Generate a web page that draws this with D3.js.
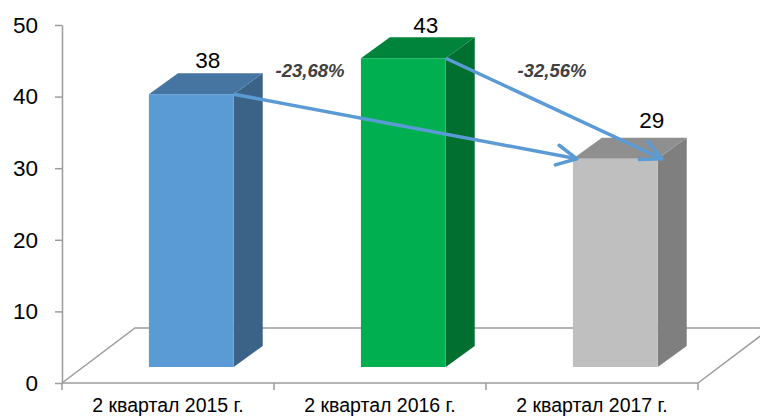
<!DOCTYPE html>
<html>
<head>
<meta charset="utf-8">
<script src="https://cdn.jsdelivr.net/npm/d3@7"></script>
<style>
  body { margin: 0; background: #fff; }
  svg { display: block; font-family: "Liberation Sans", Arial, sans-serif; }
</style>
</head>
<body>
<div id="chart"></div>
<script>
// Данные
const categories = ["2 квартал 2015 г.", "2 квартал 2016 г.", "2 квартал 2017 г."];
const values = [38, 43, 29];
const yTicks = [0, 10, 20, 30, 40, 50];
// стрелки: из какого столбца в какой
const arrowFrom = [0, 1];
const arrowTo = [2, 2];

// Цвета граней
const frontColors = ["#5b9bd5", "#00b050", "#bfbfbf"];
const topColors = ["#4675a1", "#00843b", "#8f8f8f"];
const sideColors = ["#3b6387", "#006f30", "#7f7f7f"];

const width = 760, height = 418;
const depthX = 29, depthY = -21;      // глубина столбцов
const floorX = 73, floorY = -55;      // глубина "пола"
const labelNudge = [[2, 0], [8, 1], [22, -5]];
const pctX = [310, 552];

const svg = d3.select("#chart").append("svg")
  .attr("width", width)
  .attr("height", height);

const x = d3.scaleBand().domain(categories).range([62, 698]).padding(0);
const yAxis = d3.scaleLinear().domain([0, 50]).range([383, 25]);
const yBar = d3.scaleLinear().domain([0, 50]).range([367, 8]);
const bw = x.bandwidth();

const barX = c => x(c) + bw * 0.41;
const barW = bw * 0.4;

// Пол
const x0 = x.range()[0], x1 = x.range()[1], y0 = yAxis(0);
svg.append("path")
  .attr("d", `M${x0},${y0} L${x0 + floorX},${y0 + floorY} L${x1 + floorX},${y0 + floorY} M${x1},${y0} L${x1 + floorX},${y0 + floorY}`)
  .attr("fill", "none")
  .attr("stroke", "#9c9c9c")
  .attr("stroke-width", 1.5);

// Передний край и деления оси X
svg.append("line")
  .attr("x1", x0).attr("x2", x1)
  .attr("y1", y0).attr("y2", y0)
  .attr("stroke", "#9c9c9c").attr("stroke-width", 1.5);

const edges = categories.map(c => x(c)).concat([x1]);
svg.selectAll(".xtick")
  .data(edges)
  .join("line")
  .attr("class", "xtick")
  .attr("x1", d => d).attr("x2", d => d)
  .attr("y1", y0).attr("y2", y0 + 7)
  .attr("stroke", "#9c9c9c").attr("stroke-width", 1.5);

svg.selectAll(".xlabel")
  .data(categories)
  .join("text")
  .attr("class", "xlabel")
  .attr("x", d => x(d) + bw / 2)
  .attr("y", 412)
  .attr("text-anchor", "middle")
  .attr("font-size", 19.5)
  .attr("fill", "#000")
  .text(d => d);

// Ось Y
const gy = svg.append("g")
  .attr("transform", `translate(${x0},0)`)
  .call(d3.axisLeft(yAxis).tickValues(yTicks).tickSize(7).tickSizeOuter(0).tickPadding(17));
gy.select(".domain").attr("stroke", "#9c9c9c").attr("stroke-width", 1.5);
gy.selectAll(".tick line").attr("stroke", "#9c9c9c").attr("stroke-width", 1.5);
gy.selectAll(".tick text")
  .attr("font-family", "Liberation Sans, Arial, sans-serif")
  .attr("font-size", 22.5)
  .attr("fill", "#000");

// Столбцы
const bars = svg.selectAll(".bar")
  .data(values.map((v, i) => ({ v, i, c: categories[i] })))
  .join("g")
  .attr("class", "bar");

bars.append("path")
  .attr("d", d => {
    const l = barX(d.c), r = l + barW, t = yBar(d.v), b = yBar(0);
    return `M${r},${t} L${r + depthX},${t + depthY} L${r + depthX},${b + depthY} L${r},${b} Z`;
  })
  .attr("fill", d => sideColors[d.i]);

bars.append("path")
  .attr("d", d => {
    const l = barX(d.c), r = l + barW, t = yBar(d.v);
    return `M${l},${t} L${l + depthX},${t + depthY} L${r + depthX},${t + depthY} L${r},${t} Z`;
  })
  .attr("fill", d => topColors[d.i]);

bars.append("rect")
  .attr("x", d => barX(d.c))
  .attr("y", d => yBar(d.v))
  .attr("width", barW)
  .attr("height", d => yBar(0) - yBar(d.v))
  .attr("fill", d => frontColors[d.i]);

bars.append("text")
  .attr("x", d => barX(d.c) + (barW + depthX) / 2 + labelNudge[d.i][0])
  .attr("y", d => yBar(d.v) - 26 + labelNudge[d.i][1])
  .attr("text-anchor", "middle")
  .attr("font-size", 22.5)
  .attr("fill", "#000")
  .text(d => d.v);

// Стрелки
svg.append("defs").append("marker")
  .attr("id", "chevron")
  .attr("markerUnits", "userSpaceOnUse")
  .attr("markerWidth", 30).attr("markerHeight", 30)
  .attr("viewBox", "-25 -15 30 30")
  .attr("refX", 0).attr("refY", 0)
  .attr("orient", "auto")
  .style("overflow", "visible")
  .append("path")
  .attr("d", "M-20,-10 L0,0 L-20,10")
  .attr("fill", "none")
  .attr("stroke", "#5b9bd5")
  .attr("stroke-width", 3.5)
  .attr("stroke-linecap", "round")
  .attr("stroke-linejoin", "round");

arrowFrom.forEach((f, k) => {
  const t = arrowTo[k];
  const sx = barX(categories[f]) + barW, sy = yBar(values[f]);
  const ex = barX(categories[t]) + (k === 0 ? 0 : barW) + 4, ey = yBar(values[t]);
  svg.append("line")
    .attr("x1", sx).attr("y1", sy)
    .attr("x2", ex).attr("y2", ey)
    .attr("stroke", "#5b9bd5")
    .attr("stroke-width", 3.5)
    .attr("marker-end", "url(#chevron)");

  const pct = (values[t] - values[f]) / values[f] * 100;
  svg.append("text")
    .attr("x", pctX[k])
    .attr("y", 77)
    .attr("text-anchor", "middle")
    .attr("font-size", 18.5)
    .attr("font-weight", "bold")
    .attr("font-style", "italic")
    .attr("fill", "#404040")
    .text(pct.toFixed(2).replace(".", ",") + "%");
});
</script>
</body>
</html>
